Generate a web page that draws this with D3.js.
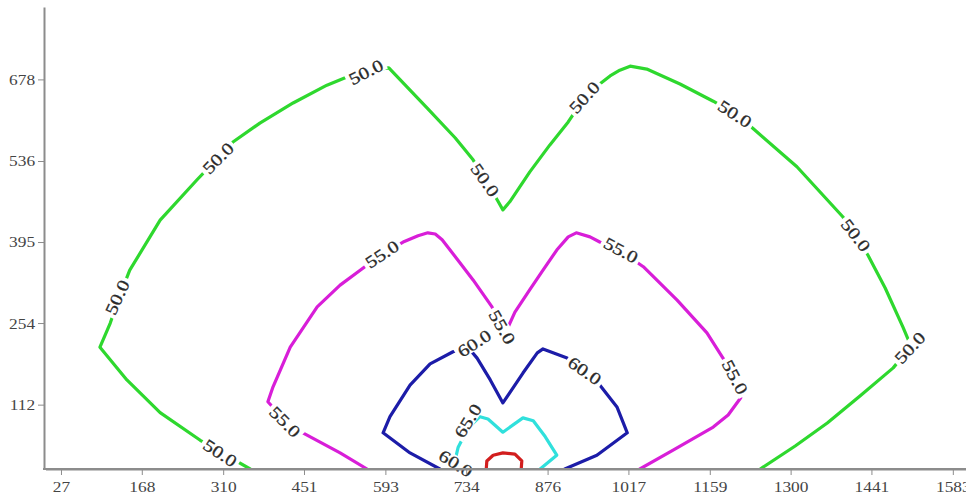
<!DOCTYPE html>
<html>
<head>
<meta charset="utf-8">
<script src="https://cdn.jsdelivr.net/npm/d3@7"></script>
<style>
  html, body { margin: 0; padding: 0; background: #fff; }
  svg { display: block; }
</style>
</head>
<body>
<svg id="chart" width="966" height="498"></svg>
<script>
// ---------- data ----------
const xTicks = [27, 168, 310, 451, 593, 734, 876, 1017, 1159, 1300, 1441, 1583];
const yTicks = [112, 254, 395, 536, 678];
const levels = [50, 55, 60, 65, 70];

const contour50 = [
  [357,0],[270,50],[200,98],[142,155],[95,212],[104,233],[113,254],[130,303],[147,346],
  [200,433],[264,503],[327,569],[374,602],[432,637],[491,668],[526,682],[563,693],[599,698],
  [666,628],[715,576],[746,538],[776,489],[790,465],[798,451],[810,465],[845,517],[880,564],
  [912,604],[941,647],[967,670],[985,684],[1002,694],[1020,701],[1049,696],[1107,670],
  [1165,640],[1203,618],[1234,593],[1311,526],[1391,439],[1414,406],[1435,372],[1465,315],
  [1496,247],[1510,214],[1479,176],[1421,127],[1364,80],[1308,40],[1247,0]
];
const contour55 = [
  [561,0],[514,28],[449,63],[418,84],[388,117],[397,143],[427,212],[474,282],[514,320],
  [549,346],[587,374],[624,395],[650,406],[667,411],[680,409],[692,399],[723,359],[746,329],
  [779,282],[793,256],[803,238],[819,273],[845,312],[868,346],[892,381],[912,404],[926,411],
  [950,404],[967,395],[1004,379],[1043,352],[1102,294],[1154,237],[1182,193],[1200,158],
  [1213,124],[1191,94],[1165,73],[1095,33],[1037,0]
];
const contour60 = [
  [688,0],[636,28],[589,63],[601,91],[636,146],[671,183],[711,204],[737,212],[753,193],
  [776,155],[798,115],[833,167],[858,202],[868,209],[910,193],[967,146],[997,108],
  [1015,63],[962,24],[906,0]
];
const contour65 = [
  [715,0],[716,21],[720,38],[737,71],[758,91],[772,87],[798,64],[833,89],[851,84],
  [872,56],[892,24],[863,0]
];
const contour70 = [
  [769,0],[770,14],[781,24],[798,28],[819,26],[831,14],[830,0]
];

// contour labels: level, position (data units)
const labelLevel = [50,50,50,50,50,50,50,50,50, 55,55,55,55,55, 60,60,60, 65];
const labelX = [305,125,301,559,767,940,1203,1414,1508, 587,418,797,1004,1203, 748,941,716, 737];
const labelY = [28,299,541,691,503,647,618,407,211, 374,82,247,381,160, 219,171,10, 84];

// ---------- rendering ----------
const lineColor = {50:"#2ed82e", 55:"#d81ed8", 60:"#1c1ca8", 65:"#30e0dc", 70:"#d21e1e"};
const labelAngle = [33,-65,-45,-27,55,-48,33,52,-47, -33,45,60,28,62, -33,35,32, -58];
const serif = "'Liberation Serif', 'DejaVu Serif', serif";

const svg = d3.select("#chart");
const x = d3.scaleLinear().domain([0, 1606]).range([45.5, 966]);
const y = d3.scaleLinear().domain([0, 804]).range([469, 7]);

svg.append("defs").append("clipPath").attr("id","plot")
  .append("rect").attr("x",44).attr("y",7).attr("width",922).attr("height",462);

const line = d3.line().x(d => x(d[0])).y(d => y(d[1]));
const contours = [contour50, contour55, contour60, contour65, contour70];

const g = svg.append("g").attr("clip-path","url(#plot)");
contours.forEach((c, i) => {
  g.append("path")
    .attr("d", line(c))
    .attr("fill","none")
    .attr("stroke", lineColor[levels[i]])
    .attr("stroke-width", 3.2)
    .attr("stroke-linejoin","round")
    .attr("stroke-linecap","round");
});

// labels
const sx = 1.22;
const lg = svg.append("g");
labelLevel.forEach((lv, i) => {
  const t = lg.append("g")
    .attr("transform", `translate(${x(labelX[i])},${y(labelY[i])}) rotate(${labelAngle[i]})`);
  const rect = t.append("rect").attr("fill","#fff");
  const txt = t.append("text")
    .attr("text-anchor","middle")
    .attr("dy","0.35em")
    .attr("transform", `scale(${sx},1)`)
    .attr("font-family", serif)
    .attr("font-size", 17)
    .attr("fill","#2a2a2a")
    .attr("stroke","#2a2a2a")
    .attr("stroke-width", 0.3)
    .text(lv.toFixed(1));
  const bb = txt.node().getBBox();
  const w = bb.width * sx + 6;
  rect.attr("x", -w / 2).attr("y", -7).attr("width", w).attr("height", 14);
});

// axes
const axisColor = "#8c8c8c";
const yAxis = svg.append("g").attr("transform","translate(44,0)")
  .call(d3.axisLeft(y).tickValues(yTicks).tickSize(6).tickSizeOuter(0).tickFormat(d3.format("d")));
const xAxis = svg.append("g").attr("transform","translate(0,469)")
  .call(d3.axisBottom(x).tickValues(xTicks).tickSize(6).tickSizeOuter(0).tickFormat(d3.format("d")));

[yAxis, xAxis].forEach(a => {
  a.select(".domain").attr("stroke", axisColor).attr("stroke-width", 2);
  a.selectAll(".tick line").attr("stroke", axisColor).attr("stroke-width", 1);
  a.selectAll(".tick text")
    .attr("font-family", serif)
    .attr("font-size", 15.5)
    .attr("fill","#444")
    .attr("transform","scale(1.12,1)");
});
// bottom axis line extends to the left axis
svg.append("line").attr("x1",43).attr("x2",966).attr("y1",469).attr("y2",469)
  .attr("stroke", axisColor).attr("stroke-width", 2);
xAxis.selectAll(".tick text").attr("dy","0.9em");
yAxis.selectAll(".tick text").attr("x", -8);
</script>
</body>
</html>
